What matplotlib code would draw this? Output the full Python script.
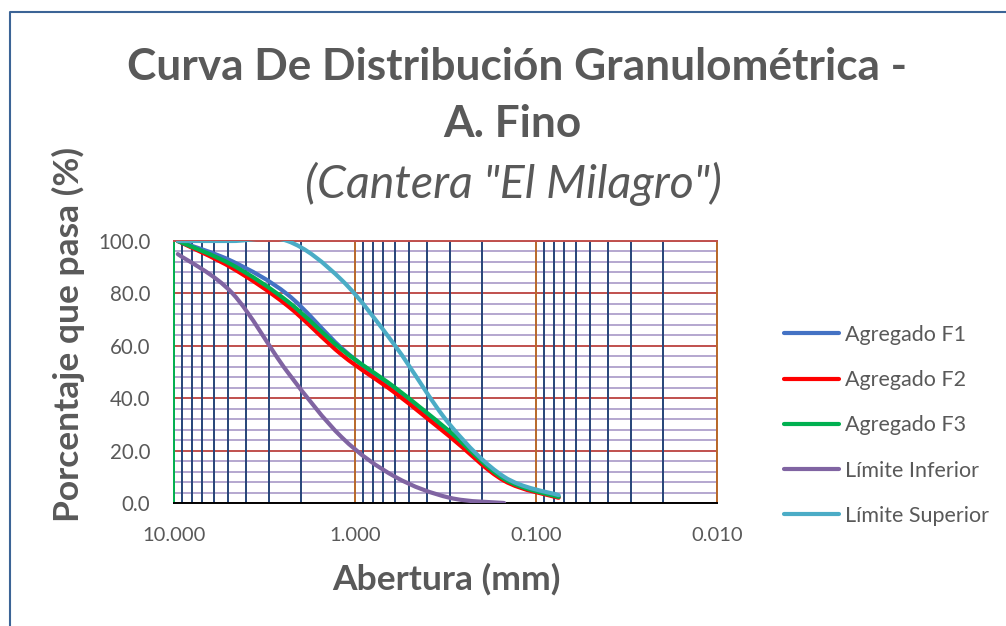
import numpy as np
import matplotlib
matplotlib.use("Agg")
import matplotlib.pyplot as plt
from matplotlib.path import Path
from matplotlib.patches import PathPatch
from matplotlib.lines import Line2D
from matplotlib.ticker import FixedLocator, FuncFormatter

# sieve openings (mm)
aberturas = [9.525, 4.75, 2.36, 1.18, 0.6, 0.3, 0.15, 0.075]

# percent passing
agregado_f1 = [100.0, 92.2, 79.6, 59.0, 43.0, 26.0, 9.0, 2.5]
agregado_f2 = [100.0, 89.6, 75.3, 56.5, 42.0, 25.4, 8.5, 2.0]
agregado_f3 = [100.0, 90.8, 77.0, 58.5, 44.0, 27.3, 9.2, 2.3]
limite_inf = [95.0, 80.0, 50.0, 25.0, 10.0, 2.0, 0.0]
limite_sup = [100.0, 100.0, 100.0, 85.0, 60.0, 30.0, 10.0, 3.0]

nombres = ["Agregado F1", "Agregado F2", "Agregado F3", "Límite Inferior", "Límite Superior"]
colores = ["#4472C4", "#FF0000", "#00B050", "#8064A2", "#4BACC6"]

x_ticks = [10, 1, 0.1, 0.01]
y_ticks = [0, 20, 40, 60, 80, 100]

GRIS = "#595959"
FUENTE = "Lato"


def curva_suave(xs, ys):
    # Catmull-Rom through the points, built in log10(x) so it looks smooth on the log axis
    u = np.log10(np.asarray(xs, dtype=float))
    v = np.asarray(ys, dtype=float)
    n = len(u)
    verts = [(u[0], v[0])]
    codes = [Path.MOVETO]
    for i in range(n - 1):
        a = i - 1 if i > 0 else i
        d = i + 2 if i + 2 < n else i + 1
        c1 = (u[i] + (u[i + 1] - u[a]) / 6, v[i] + (v[i + 1] - v[a]) / 6)
        c2 = (u[i + 1] - (u[d] - u[i]) / 6, v[i + 1] - (v[d] - v[i]) / 6)
        verts += [c1, c2, (u[i + 1], v[i + 1])]
        codes += [Path.CURVE4] * 3
    verts = [(10 ** p, q) for p, q in verts]
    return Path(verts, codes)


fig = plt.figure(figsize=(10.06, 6.26), dpi=100)
ax = fig.add_axes([174 / 1006, 1 - 503 / 626, (717 - 174) / 1006, (503 - 241) / 626])

ax.set_xscale("log")
ax.set_xlim(10, 0.01)
ax.set_ylim(0, 100)

# grid
ax.xaxis.set_major_locator(FixedLocator(x_ticks))
minors = [m * 10.0 ** k for k in (-2, -1, 0) for m in range(2, 10)]
ax.xaxis.set_minor_locator(FixedLocator(minors))
ax.xaxis.set_major_formatter(FuncFormatter(lambda v, p: f"{v:.3f}"))
ax.xaxis.set_minor_formatter(FuncFormatter(lambda v, p: ""))
ax.yaxis.set_major_locator(FixedLocator(y_ticks))
ax.yaxis.set_minor_locator(FixedLocator(np.arange(0, 101, 4)))
ax.yaxis.set_major_formatter(FuncFormatter(lambda v, p: f"{v:.1f}"))

ax.grid(True, axis="y", which="minor", color="#B4A7CF", lw=1.4)
ax.grid(True, axis="y", which="major", color="#C0504D", lw=1.4)
ax.grid(True, axis="x", which="minor", color="#264478", lw=1.4)
ax.grid(True, axis="x", which="major", color="#B8682A", lw=1.4)
ax.yaxis.set_zorder(0.5)
ax.xaxis.set_zorder(0.6)

ax.tick_params(which="both", length=0)
ax.tick_params(axis="x", pad=17, labelsize=14.5, labelcolor=GRIS)
ax.tick_params(axis="y", pad=17, labelsize=14.8, labelcolor=GRIS)
for lab in ax.get_xticklabels() + ax.get_yticklabels():
    lab.set_fontfamily(FUENTE)

ax.spines["left"].set_color("#00B050")
ax.spines["right"].set_color("#B8682A")
ax.spines["top"].set_color("#C0504D")
ax.spines["bottom"].set_color("black")
for s in ax.spines.values():
    s.set_linewidth(1.4)

series = [
    (aberturas, agregado_f1),
    (aberturas, agregado_f2),
    (aberturas, agregado_f3),
    (aberturas[:len(limite_inf)], limite_inf),
    (aberturas, limite_sup),
]
handles = []
for (xs, ys), nombre, c in zip(series, nombres, colores):
    patch = PathPatch(curva_suave(xs, ys), fill=False, edgecolor=c, lw=3.0,
                      capstyle="round", joinstyle="round", zorder=3)
    ax.add_patch(patch)
    handles.append(Line2D([], [], color=c, lw=3.0, solid_capstyle="round", label=nombre))

ax.set_xlabel("Abertura (mm)", fontsize=25.5, fontweight="bold", color=GRIS,
              fontfamily=FUENTE)
ax.xaxis.set_label_coords(0.502, -0.228)
ax.set_ylabel("Porcentaje que pasa (%)", fontsize=25.5, fontweight="bold", color=GRIS,
              fontfamily=FUENTE)
ax.yaxis.set_label_coords(-0.164, 0.645)

fig.legend(handles=handles, loc="upper left", bbox_to_anchor=(784 / 1006, 1 - 325 / 626),
           frameon=False, prop={"family": FUENTE, "size": 15.5}, labelcolor=GRIS,
           handlelength=2.55, handletextpad=0.28, labelspacing=1.17, borderaxespad=0,
           borderpad=0)

fig.text(517 / 1006, 1 - 80 / 626, "Curva De Distribución Granulométrica -",
         ha="center", va="baseline", fontsize=31.8, fontweight="bold", color=GRIS, fontfamily=FUENTE)
fig.text(512 / 1006, 1 - 137 / 626, "A. Fino",
         ha="center", va="baseline", fontsize=31.8, fontweight="bold", color=GRIS, fontfamily=FUENTE)
fig.text(513 / 1006, 1 - 198 / 626, '(Cantera "El Milagro")',
         ha="center", va="baseline", fontsize=33.5, style="italic", color=GRIS, fontfamily=FUENTE)

# chart frame
fig.add_artist(Line2D([10 / 1006, 10 / 1006, 1], [0, 1 - 12 / 626, 1 - 12 / 626],
                      transform=fig.transFigure, color="#3C6496", lw=1.5))

fig.savefig("out.png", dpi=100)
